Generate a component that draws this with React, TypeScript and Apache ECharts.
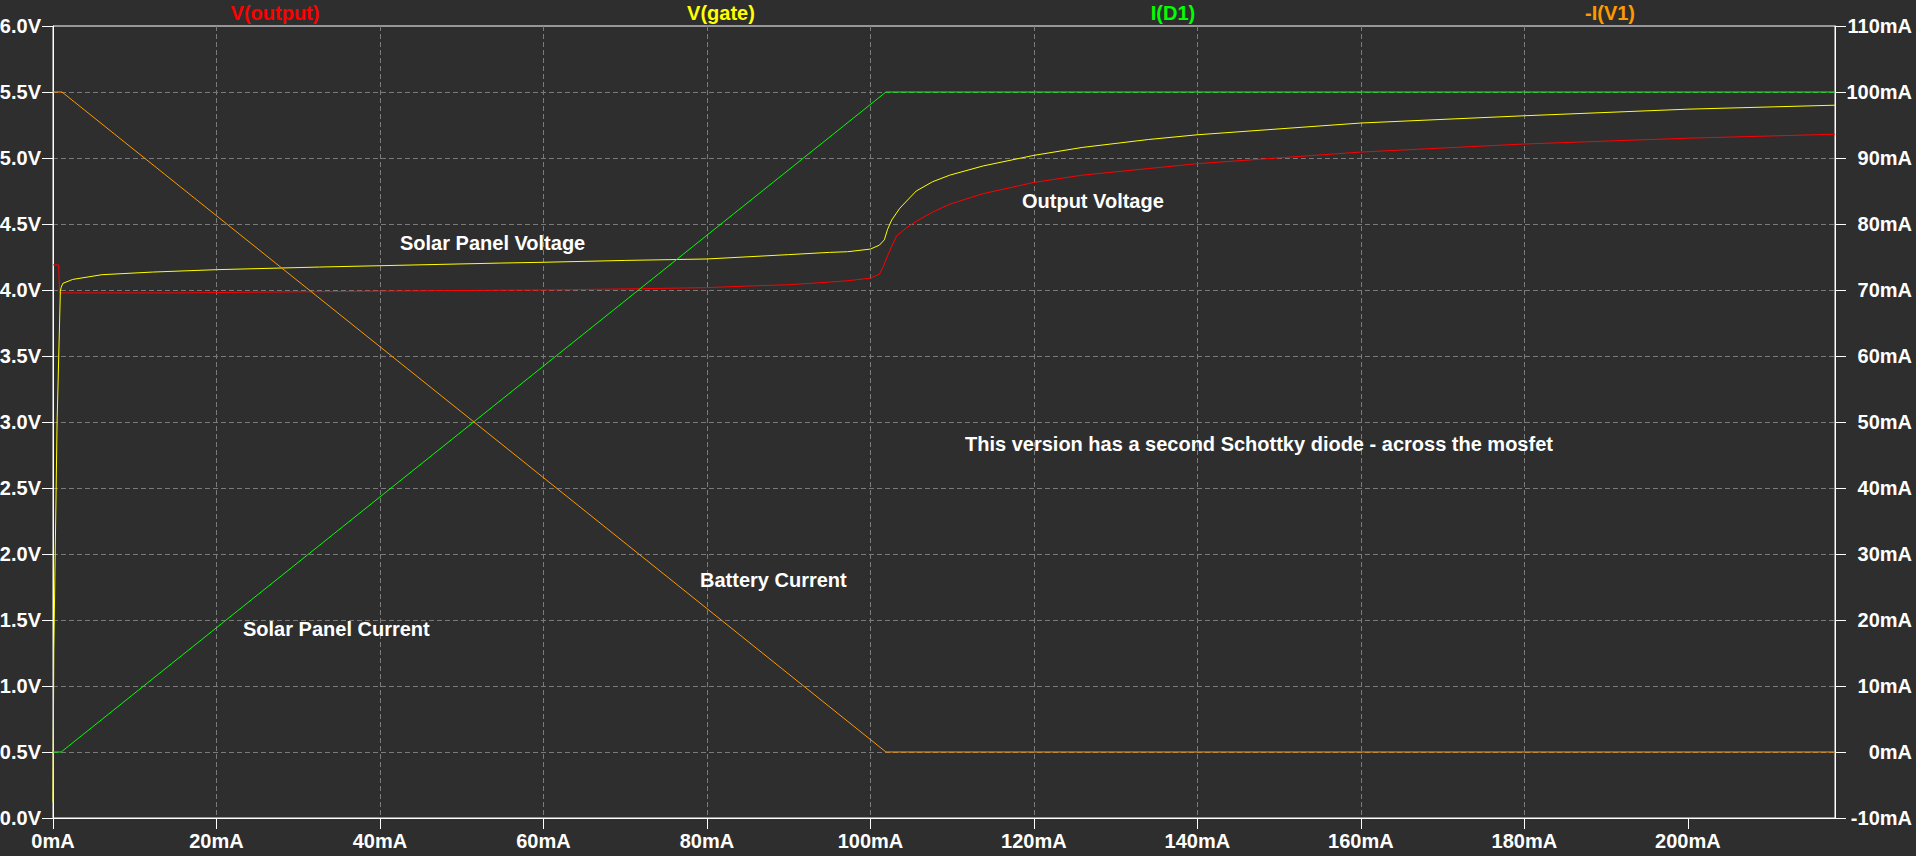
import React, { useEffect, useRef } from "react";
import * as echarts from "echarts";

// X sweep ticks (mA)
const xTicks: number[] = [0, 20, 40, 60, 80, 100, 120, 140, 160, 180, 200];

// V(output) [sweep mA, volts]
const vOutput: [number, number][] = [
  [0, 4.19], [0.7, 4.19], [0.8, 3.978], [15, 3.978], [30, 3.986], [47, 3.995],
  [60, 4.0], [70, 4.008], [80, 4.018], [85, 4.03], [90, 4.04], [95, 4.06],
  [97.2, 4.07], [100, 4.09], [101.1, 4.12], [101.6, 4.18], [102.1, 4.26],
  [102.6, 4.33], [103.2, 4.41], [104.4, 4.47], [105.6, 4.52], [107.6, 4.59],
  [109.7, 4.65], [113.8, 4.73], [120, 4.815], [125.9, 4.87], [134, 4.92],
  [140, 4.957], [160, 5.045], [180, 5.106], [200, 5.15], [218, 5.18],
];

// V(gate) [sweep mA, volts]
const vGate: [number, number][] = [
  [0, 0.12], [0.1, 1.27], [0.5, 3.0], [0.9, 3.99], [1.0, 4.02], [1.2, 4.05],
  [2.4, 4.08], [6, 4.116], [12.2, 4.136], [20, 4.154], [32.6, 4.174],
  [40, 4.184], [54.7, 4.204], [60, 4.21], [70, 4.224], [80, 4.235],
  [90, 4.268], [95, 4.285], [97.2, 4.29], [100, 4.31], [101.1, 4.34],
  [101.7, 4.38], [102.1, 4.46], [102.6, 4.53], [103.6, 4.62], [105.6, 4.75],
  [107.6, 4.82], [109.7, 4.87], [113.8, 4.94], [120, 5.02], [125.9, 5.08],
  [134, 5.14], [140, 5.176], [160, 5.265], [180, 5.32], [200, 5.37], [218, 5.4],
];

// I(D1) [sweep mA, mA]
const iD1: [number, number][] = [[0, 0], [1.0, 0], [101.9, 100], [218, 100]];

// -I(V1) [sweep mA, mA]
const iV1: [number, number][] = [[0, 100], [1.1, 100], [101.9, 0], [218, 0]];

const traceNames: string[] = ["V(output)", "V(gate)", "I(D1)", "-I(V1)"];
const annotations: string[] = [
  "Solar Panel Voltage",
  "Output Voltage",
  "This version has a second Schottky diode - across the mosfet",
  "Battery Current",
  "Solar Panel Current",
];

const FONT = "'Liberation Sans', Arial, sans-serif";
const BG = "#2e2e2e";
const GRID_LINE = "#7a7a7a";
const COLORS = ["#ff0000", "#ffff00", "#00ff00", "#ff9900"];

export default function App() {
  const ref = useRef<HTMLDivElement>(null);

  useEffect(() => {
    if (!ref.current) return;
    const chart = echarts.init(ref.current, undefined, { renderer: "svg" });

    const labelCenters = [275, 721, 1173, 1610];
    const annPos = [
      [400, 243],
      [1022, 201],
      [965, 444],
      [700, 580],
      [243, 629],
    ];

    const textStyleCommon = {
      fontFamily: FONT,
      fontWeight: "bold" as const,
      fontSize: 20,
    };

    const option: any = {
      animation: false,
      backgroundColor: BG,
      grid: {
        left: 53,
        right: 81,
        top: 26,
        bottom: 38,
        show: true,
        borderColor: "#ffffff",
        borderWidth: 1,
        backgroundColor: "transparent",
        containLabel: false,
        outerBoundsMode: "none",
      },
      xAxis: {
        type: "value",
        min: 0,
        max: 218,
        interval: 20,
        axisLine: { show: true, onZero: false, lineStyle: { color: "#ffffff", width: 1 } },
        axisTick: {
          show: true,
          length: 11,
          lineStyle: { color: "#ffffff", width: 1 },
          customValues: xTicks,
        },
        axisLabel: {
          ...textStyleCommon,
          color: "#ffffff",
          margin: 13,
          customValues: xTicks,
          formatter: (v: number) => `${v}mA`,
        },
        splitLine: {
          show: true,
          showMinLine: false,
          showMaxLine: false,
          lineStyle: { color: GRID_LINE, type: [5, 3], width: 1 },
        },
      },
      yAxis: [
        {
          type: "value",
          position: "left",
          min: 0,
          max: 6,
          interval: 0.5,
          axisLine: { show: true, onZero: false, lineStyle: { color: "#ffffff", width: 1 } },
          axisTick: { show: true, length: 11, lineStyle: { color: "#ffffff", width: 1 } },
          axisLabel: {
            ...textStyleCommon,
            color: "#ffffff",
            margin: 12,
            formatter: (v: number) => `${v.toFixed(1)}V`,
          },
          splitLine: {
            show: true,
            showMinLine: false,
            showMaxLine: false,
            lineStyle: { color: GRID_LINE, type: [5, 3], width: 1 },
          },
        },
        {
          type: "value",
          position: "right",
          min: -10,
          max: 110,
          interval: 10,
          axisLine: { show: true, onZero: false, lineStyle: { color: "#ffffff", width: 1 } },
          axisTick: { show: true, length: 11, lineStyle: { color: "#ffffff", width: 1 } },
          axisLabel: {
            ...textStyleCommon,
            color: "#ffffff",
            align: "right",
            margin: 77,
            formatter: (v: number) => `${v}mA`,
          },
          splitLine: { show: false },
        },
      ],
      series: [
        { name: traceNames[0], data: vOutput, yAxisIndex: 0, color: COLORS[0] },
        { name: traceNames[1], data: vGate, yAxisIndex: 0, color: COLORS[1] },
        { name: traceNames[2], data: iD1, yAxisIndex: 1, color: COLORS[2] },
        { name: traceNames[3], data: iV1, yAxisIndex: 1, color: COLORS[3] },
      ].map((s) => ({
        type: "line",
        name: s.name,
        data: s.data,
        yAxisIndex: s.yAxisIndex,
        showSymbol: false,
        symbol: "none",
        smooth: false,
        lineStyle: { color: s.color, width: 1 },
        itemStyle: { color: s.color },
        emphasis: { disabled: true },
        silent: true,
      })),
      graphic: [
        ...traceNames.map((name, i) => ({
          type: "text",
          x: labelCenters[i],
          y: 13,
          silent: true,
          style: {
            text: name,
            fill: COLORS[i],
            font: `bold 20px ${FONT}`,
            align: "center",
            verticalAlign: "middle",
          },
        })),
        ...annotations.map((t, i) => ({
          type: "text",
          x: annPos[i][0],
          y: annPos[i][1],
          silent: true,
          z: 10,
          style: {
            text: t,
            fill: "#ffffff",
            font: `bold 20px ${FONT}`,
            align: "left",
            verticalAlign: "middle",
          },
        })),
      ],
    };

    chart.setOption(option);
    return () => chart.dispose();
  }, []);

  return (
    <div
      ref={ref}
      style={{ position: "fixed", left: 0, top: 0, width: 1916, height: 856 }}
    />
  );
}
